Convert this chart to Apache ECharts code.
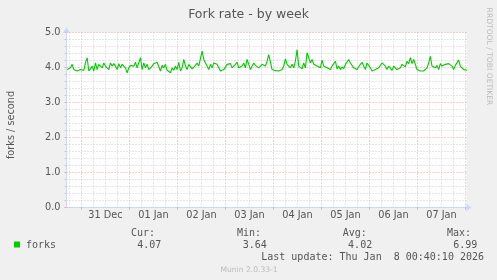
<!DOCTYPE html>
<html><head><meta charset="utf-8">
<script src="https://cdn.jsdelivr.net/npm/echarts@6/dist/echarts.min.js"></script>
<style>html,body{margin:0;padding:0;background:#f0f0f0}#c{width:497px;height:280px}</style>
</head><body><div id="c"></div><script>
const chartTitle = 'Fork rate - by week';
const unitLabel = 'forks / second';
const seriesName = 'forks';
const watermark = 'RRDTOOL / TOBI OETIKER';
const footer = 'Munin 2.0.33-1';
const lastUpdate = 'Last update: Thu Jan  8 00:40:10 2026';
// time axis in hours relative to 31 Dec 00:00
const xMin = -7.5, xMax = 192.5;
const startHour = -7.17, stepHours = 0.833;
const dayLines = [0, 24, 48, 72, 96, 120, 144, 168, 192];
const sixHourLines = [-6, 6, 12, 18, 30, 36, 42, 54, 60, 66, 78, 84, 90, 102, 108, 114, 126, 132, 138, 150, 156, 162, 174, 180, 186];
const dayLabelHours = [12, 36, 60, 84, 108, 132, 156, 180];
const dayLabels = ['31 Dec', '01 Jan', '02 Jan', '03 Jan', '04 Jan', '05 Jan', '06 Jan', '07 Jan'];
const yMin = 0, yMax = 5, yStep = 1;
const statLabels = ['Cur:', 'Min:', 'Avg:', 'Max:'];
const statValues = ['4.07', '3.64', '4.02', '6.99'];
const forks = [
 3.94,3.96,3.99,4.09,3.94,3.91,3.90,3.92,3.94,3.99,3.92,4.13,4.28,3.90,3.96,4.04,3.90,4.13,3.94,4.09,
 4.13,3.99,4.13,4.04,4.09,3.94,4.13,4.04,4.11,4.04,3.94,4.11,3.99,4.09,4.13,3.99,3.85,3.99,4.06,4.11,
 4.04,4.15,3.99,3.94,4.28,3.94,4.13,3.99,4.09,3.94,3.90,4.04,4.11,4.09,4.15,4.02,3.90,4.06,3.99,4.09,
 3.92,3.96,3.85,3.99,3.92,4.04,3.94,4.15,3.90,3.99,4.23,4.04,3.94,4.09,4.04,3.96,3.99,4.06,4.13,4.04,
 3.99,4.47,4.23,4.13,4.04,3.94,4.09,3.99,4.13,4.18,4.09,4.04,3.90,3.85,3.94,3.99,4.09,4.04,4.11,3.99,
 3.94,4.09,4.15,3.99,3.94,4.04,4.13,3.99,4.23,4.09,3.94,4.04,4.13,4.06,4.11,3.99,4.04,4.09,4.13,4.04,
 4.18,4.37,
 4.32,3.94,3.90,3.91,3.92,3.90,3.90,3.94,4.04,4.25,4.09,4.04,3.99,4.09,3.99,4.18,4.51,4.04,4.09,3.96,
 4.13,3.99,4.42,4.28,4.13,4.23,4.09,4.13,4.04,4.09,3.99,4.21,4.04,4.09,3.99,4.04,3.94,4.04,3.99,4.18,
 3.96,4.04,3.94,4.02,3.96,4.09,4.13,4.23,4.13,4.09,3.99,4.04,3.94,4.02,4.09,4.15,4.04,3.94,4.13,4.13,
 3.99,3.90,3.85,3.94,3.90,3.99,4.04,4.13,4.18,4.04,3.94,4.04,3.99,3.92,4.04,3.99,3.94,3.96,3.99,4.09,
 4.04,4.02,4.18,4.11,4.28,4.11,4.23,4.09,3.94,3.92,3.90,3.94,3.90,3.92,3.99,4.13,4.32,4.04,4.09,3.99,
 4.06,3.94,4.11,4.04,3.99,4.09,4.04,4.11,4.15,4.04,3.94,4.06,4.09,4.21,4.04,4.09,3.94,3.96,3.92
];

const FONT = '"DejaVu Sans", sans-serif';
const MONO = '"DejaVu Sans Mono", monospace';
const TXT = '#555';
const AXIS = '#cfd6f8';
const GRID = '#cccccc';
const MGRID = '#f2a2a2';
const DASH = [1, 2];

const chart = echarts.init(document.getElementById('c'), null, {renderer: 'canvas'});
const graphic = [
  {type: 'text', x: 11, y: 125, rotation: Math.PI / 2,
   style: {text: unitLabel, font: '9.72px ' + FONT, fill: TXT, align: 'center', verticalAlign: 'middle'}},
  {type: 'text', x: 488.5, y: 56.5, rotation: -Math.PI / 2,
   style: {text: watermark, font: '7.6px ' + FONT, fill: '#bbbbbb', align: 'center', verticalAlign: 'middle'}},
  {type: 'rect', shape: {x: 14, y: 241.5, width: 6, height: 6}, style: {fill: '#00cc00'}},
  {type: 'text', x: 26, y: 245, style: {text: seriesName, font: '10px ' + MONO, fill: TXT, verticalAlign: 'middle'}},
  {type: 'text', x: 484, y: 257.7, style: {text: lastUpdate, font: '10px ' + MONO, fill: TXT, align: 'right', verticalAlign: 'middle'}},
  {type: 'text', x: 249, y: 270, style: {text: footer, font: '7.6px ' + FONT, fill: '#bbbbbb', align: 'center', verticalAlign: 'middle'}}
];
const labelX = [131.0, 237.0, 342.8, 447.0];
const valueX = [137.2, 242.8, 348.1, 453.2];
statLabels.forEach((s, i) => graphic.push({type: 'text', x: labelX[i], y: 233.3,
  style: {text: s, font: '10px ' + MONO, fill: TXT, verticalAlign: 'middle'}}));
statValues.forEach((s, i) => graphic.push({type: 'text', x: valueX[i], y: 245,
  style: {text: s, font: '10px ' + MONO, fill: TXT, verticalAlign: 'middle'}}));

chart.setOption({
  animation: false,
  backgroundColor: '#f0f0f0',
  title: {text: chartTitle, left: 'center', top: 3,
    textStyle: {fontFamily: FONT, fontSize: 12.5, fontWeight: 'normal', color: TXT}},
  grid: {left: 66.5, right: 30.5, top: 32.5, bottom: 72.5, show: true, backgroundColor: '#ffffff', borderWidth: 0},
  xAxis: {type: 'value', min: xMin, max: xMax,
     axisLine: {show: true, onZero: false, lineStyle: {color: AXIS, width: 1}, symbol: ['none', 'arrow'], symbolSize: [6, 6], symbolOffset: [0, 5]},
     axisTick: {show: true, customValues: dayLines, length: 2, lineStyle: {color: MGRID}},
     axisLabel: {show: true, customValues: dayLabelHours, margin: 3, fontFamily: FONT, fontSize: 9.72, color: TXT,
       formatter: v => dayLabels[dayLabelHours.indexOf(v)] || ''},
     splitLine: {show: false}
  },
  yAxis: {type: 'value', min: yMin, max: yMax, interval: yStep,
    axisLine: {show: true, onZero: false, lineStyle: {color: AXIS, width: 1}, symbol: ['none', 'arrow'], symbolSize: [6, 6], symbolOffset: [0, 5]},
    axisTick: {show: true, length: 2, lineStyle: {color: MGRID}},
    minorTick: {show: true, splitNumber: 5, length: 2, lineStyle: {color: GRID}},
    axisLabel: {margin: 6, fontFamily: FONT, fontSize: 9.72, color: TXT, formatter: v => v.toFixed(1)},
    splitLine: {show: true, lineStyle: {color: MGRID, type: DASH, width: 1}},
    minorSplitLine: {show: true, lineStyle: {color: GRID, type: DASH, width: 1}}
  },
  series: [
    {name: 'minorgrid', type: 'line', data: [], z: 1, silent: true,
     markLine: {silent: true, symbol: 'none', label: {show: false}, animation: false,
       lineStyle: {color: GRID, type: DASH, width: 1},
       data: sixHourLines.map(h => ({xAxis: h}))}},
    {name: 'daygrid', type: 'line', data: [], z: 2, silent: true,
     markLine: {silent: true, symbol: 'none', label: {show: false}, animation: false,
       lineStyle: {color: MGRID, type: DASH, width: 1},
       data: dayLines.map(h => ({xAxis: h}))}},
    {name: seriesName, type: 'line',
     data: forks.map((v, i) => [startHour + i * stepHours, v]),
     showSymbol: false, symbol: 'none',
     lineStyle: {color: '#00cc00', width: 1.1}, itemStyle: {color: '#00cc00'},
     z: 5}
  ],
  graphic: graphic
});
</script></body></html>
